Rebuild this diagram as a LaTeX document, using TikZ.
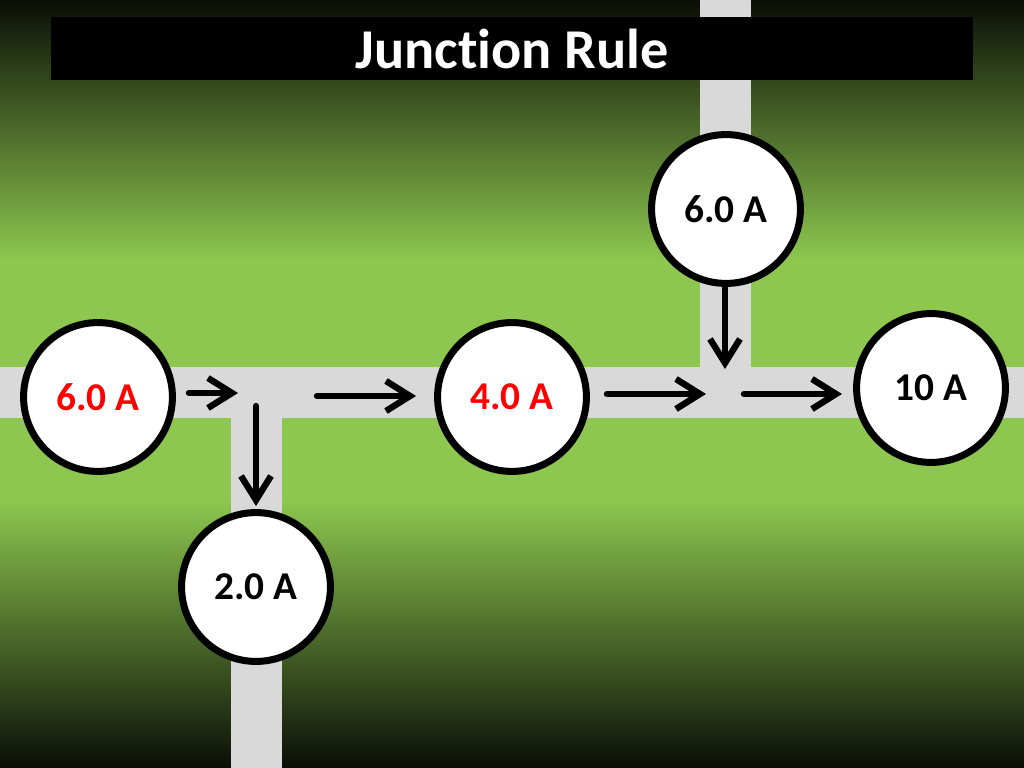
\documentclass[tikz,border=0pt]{standalone}
\usepackage{fontspec}
\setmainfont{Carlito}[Ligatures=NoCommon]
\usepackage{tikz}
\usetikzlibrary{arrows.meta, positioning}
\definecolor{wiregray}{RGB}{217,217,217}
\definecolor{slidedark}{RGB}{10,14,6}
\definecolor{slidegreen}{RGB}{141,199,79}
\definecolor{labelred}{RGB}{255,0,0}
\pgfdeclareverticalshading{slidebg}{100bp}{color(0bp)=(slidedark); color(25bp)=(slidedark); color(42.45bp)=(slidegreen); color(58.07bp)=(slidegreen); color(75bp)=(slidedark); color(100bp)=(slidedark)}
\tikzset{
    meter/.style={circle, draw=black, line width=0.175cm, fill=white, minimum size=3.72cm, inner sep=0pt, font=\fontsize{28}{32}\selectfont\bfseries},
    flow/.style={line width=0.16cm, line cap=round, -{Straight Barb[length=0.6cm, width=0.75cm]}},
    titlebar/.style={fill=black, text=white, minimum width=23.05cm, minimum height=1.575cm, inner sep=0pt, font=\fontsize{40}{46}\selectfont\bfseries}
}

\begin{document}
\begin{tikzpicture}[x=0.025cm, y=-0.025cm]
    \useasboundingbox (0,0) rectangle (1024,768);
    % Background
    \shade[shading=slidebg] (0,0) rectangle (1024,768);

    % Wires
    \fill[wiregray] (0,367) rectangle (1024,418);
    \fill[wiregray] (231,367) rectangle (282,768);
    \fill[wiregray] (700,0) rectangle (751,418);

    % Title
    \node[titlebar] (title) at (512,48.5) {Junction Rule};

    % Meters
    \node[meter, text=labelred] (inA) at (98,397) {6.0 A};
    \node[meter] (outB) at (256,587) {2.0 A};
    \node[meter, text=labelred] (midA) at (512,397) {4.0 A};
    \node[meter] (inC) at (726,209) {6.0 A};
    \node[meter] (outD) at (931,388) {10 A};

    % Arrow ends
    \coordinate (f1s) at (189,393);
    \coordinate (f1e) at (238,393);
    \coordinate (f2s) at (256,406);
    \coordinate (f2e) at (256,506);
    \coordinate (f3s) at (317,396);
    \coordinate (f3e) at (416,396);
    \coordinate (f4s) at (607,394);
    \coordinate (f4e) at (706,394);
    \coordinate (f5s) at (744,394);
    \coordinate (f5e) at (842,394);
    \coordinate (f6s) at (725,288);
    \coordinate (f6e) at (725,369);

    % Current flow
    \draw[flow] (f1s) -- (f1e);
    \draw[flow] (f2s) -- (f2e);
    \draw[flow] (f3s) -- (f3e);
    \draw[flow] (f4s) -- (f4e);
    \draw[flow] (f5s) -- (f5e);
    \draw[flow] (f6s) -- (f6e);
\end{tikzpicture}
\end{document}
